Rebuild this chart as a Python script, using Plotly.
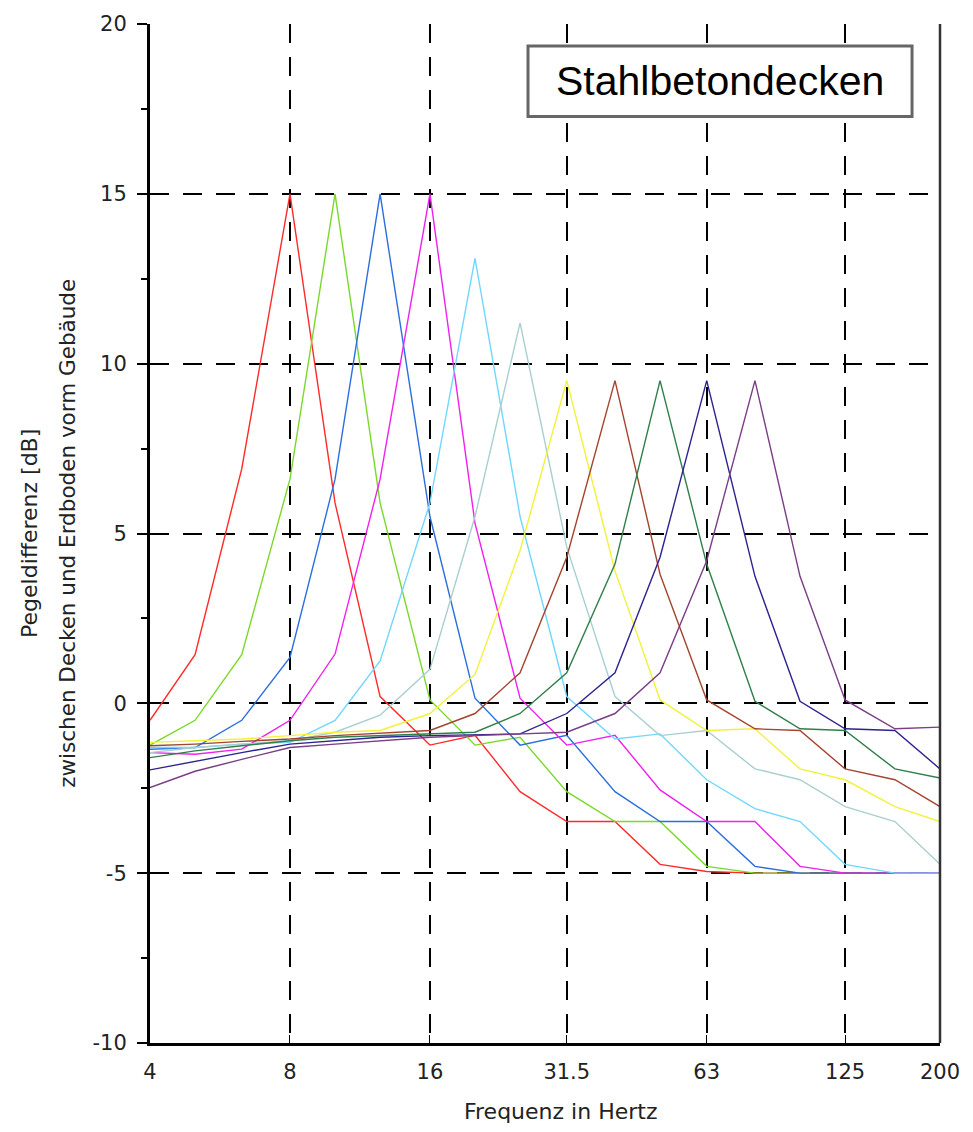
import plotly.graph_objects as go

freqs = [4, 5, 6.3, 8, 10, 12.5, 16, 20, 25, 31.5, 40, 50, 63, 80, 100, 125, 160, 200]

s_8 = [-0.5, 1.43, 6.9, 15, 5.9, 0.2, -1.23, -0.94, -2.6, -3.48, -3.48, -4.74, -4.95, -5, -5, -5, -5, -5]
s_10 = [-1.23, -0.5, 1.43, 6.6, 15, 5.9, 0.1, -1.23, -1.0, -2.6, -3.48, -3.48, -4.8, -5, -5, -5, -5, -5]
s_12_5 = [-1.35, -1.3, -0.5, 1.35, 6.6, 15, 5.5, 0.15, -1.23, -0.94, -2.6, -3.48, -3.48, -4.8, -5, -5, -5, -5]
s_16 = [-1.45, -1.5, -1.35, -0.5, 1.45, 6.6, 15, 5.3, 0.15, -1.23, -0.94, -2.55, -3.48, -3.48, -4.8, -5, -5, -5]
s_20 = [-1.3, -1.3, -1.2, -1.15, -0.5, 1.25, 5.9, 13.1, 5.5, 0.2, -1.05, -0.9, -2.25, -3.1, -3.48, -4.74, -5, -5]
s_25 = [-1.45, -1.3, -1.2, -1.1, -0.85, -0.35, 1.0, 5.5, 11.2, 4.6, 0.2, -0.95, -0.8, -1.93, -2.25, -3.04, -3.48, -4.74]
s_31_5 = [-1.15, -1.1, -1.05, -0.95, -0.85, -0.8, -0.3, 0.85, 4.5, 9.5, 3.9, 0.1, -0.8, -0.75, -1.93, -2.25, -3.04, -3.48]
s_40 = [-1.25, -1.2, -1.12, -1.05, -0.95, -0.88, -0.8, -0.3, 0.9, 4.3, 9.5, 3.8, 0.1, -0.75, -0.8, -1.93, -2.25, -3.04]
s_50 = [-1.6, -1.4, -1.25, -1.1, -1.0, -0.95, -0.9, -0.85, -0.3, 0.9, 4.1, 9.5, 4.1, 0.06, -0.75, -0.8, -1.93, -2.2]
s_63 = [-1.96, -1.7, -1.45, -1.2, -1.1, -1.0, -0.95, -0.92, -0.9, -0.3, 0.9, 4.3, 9.5, 3.74, 0.06, -0.75, -0.8, -1.93]
s_80 = [-2.48, -2.0, -1.65, -1.3, -1.2, -1.1, -1.0, -0.95, -0.9, -0.85, -0.3, 0.9, 4.2, 9.5, 3.74, 0.1, -0.75, -0.7]

series = [s_8, s_10, s_12_5, s_16, s_20, s_25, s_31_5, s_40, s_50, s_63, s_80]
names = ["8 Hz", "10 Hz", "12,5 Hz", "16 Hz", "20 Hz", "25 Hz", "31,5 Hz", "40 Hz", "50 Hz", "63 Hz", "80 Hz"]
colors = ["#ff2a2a", "#7ad92a", "#2a6ee0", "#f020f0", "#70d8ff", "#a9cfcf",
          "#f2f23a", "#a4442e", "#2f7f4a", "#2c2390", "#7a3d86"]

tick_vals = [4, 8, 16, 31.5, 63, 125, 200]
tick_text = ["4", "8", "16", "31.5", "63", "125", "200"]
y_ticks = [-10, -5, 0, 5, 10, 15, 20]
y_tick_text = ["-10", "-5", "0", "5", "10", "15", "20"]

title_text = "Stahlbetondecken"
x_title = "Frequenz in Hertz"
y_title_1 = "Pegeldifferenz [dB]"
y_title_2 = "zwischen Decken und Erdboden vorm Gebäude"

fig = go.Figure()
for name, ys, c in zip(names, series, colors):
    fig.add_trace(go.Scatter(x=freqs, y=ys, mode="lines", name=name,
                             line=dict(color=c, width=1.4), showlegend=False))

font = "DejaVu Sans, Liberation Sans, sans-serif"
afont = "Liberation Sans, Arial, sans-serif"

fig.update_layout(
    width=973, height=1132,
    margin=dict(l=150, r=33, t=18, b=89),
    paper_bgcolor="white", plot_bgcolor="white",
    font=dict(family=font, size=21, color="#222"),
    xaxis=dict(
        type="log", range=[0.60206, 2.30103],
        tickvals=tick_vals, ticktext=tick_text,
        ticks="inside", ticklen=8, tickcolor="black", tickwidth=1,
        ticklabelstandoff=8,
        showgrid=True, gridcolor="black", gridwidth=1.7, griddash="19px,14px",
        showline=True, linecolor="black", linewidth=3,
        zeroline=False,
        tickfont=dict(family=font, size=21, color="#222"),
    ),
    yaxis=dict(
        range=[-10, 20],
        tickvals=y_ticks, ticktext=y_tick_text,
        ticks="outside", ticklen=10, tickcolor="black", tickwidth=1.5,
        ticklabelstandoff=6,
        minor=dict(dtick=2.5, tick0=0, ticks="outside", ticklen=6, tickcolor="black", showgrid=False),
        showgrid=True, gridcolor="black", gridwidth=1.7, griddash="19px,14px",
        showline=True, linecolor="black", linewidth=3,
        zeroline=False,
        tickfont=dict(family=font, size=21, color="#222"),
    ),
    shapes=[
        dict(type="line", xref="paper", yref="paper", x0=1, x1=1, y0=0, y1=1,
             line=dict(color="#333", width=2.5)),
        dict(type="rect", xref="paper", yref="paper", x0=0.4785, x1=0.9646, y0=0.9093, y1=0.9785,
             line=dict(color="#666", width=3), fillcolor="white"),
    ],
    annotations=[
        dict(text=title_text, xref="paper", yref="paper",
             x=0.7215, y=0.9439, xanchor="center", yanchor="middle", showarrow=False,
             font=dict(family=afont, size=41, color="black")),
        dict(text=x_title, xref="paper", yref="paper",
             x=0.519, y=-0.0673, xanchor="center", yanchor="middle", showarrow=False,
             font=dict(family=font, size=22, color="#222")),
        dict(text=y_title_1, xref="paper", yref="paper", textangle=-90,
             x=-0.152, y=0.5005, xanchor="center", yanchor="middle", showarrow=False,
             font=dict(family=font, size=22, color="#222")),
        dict(text=y_title_2, xref="paper", yref="paper", textangle=-90,
             x=-0.104, y=0.5005, xanchor="center", yanchor="middle", showarrow=False,
             font=dict(family=font, size=21.5, color="#222")),
    ],
)

fig.write_html("out.html")
